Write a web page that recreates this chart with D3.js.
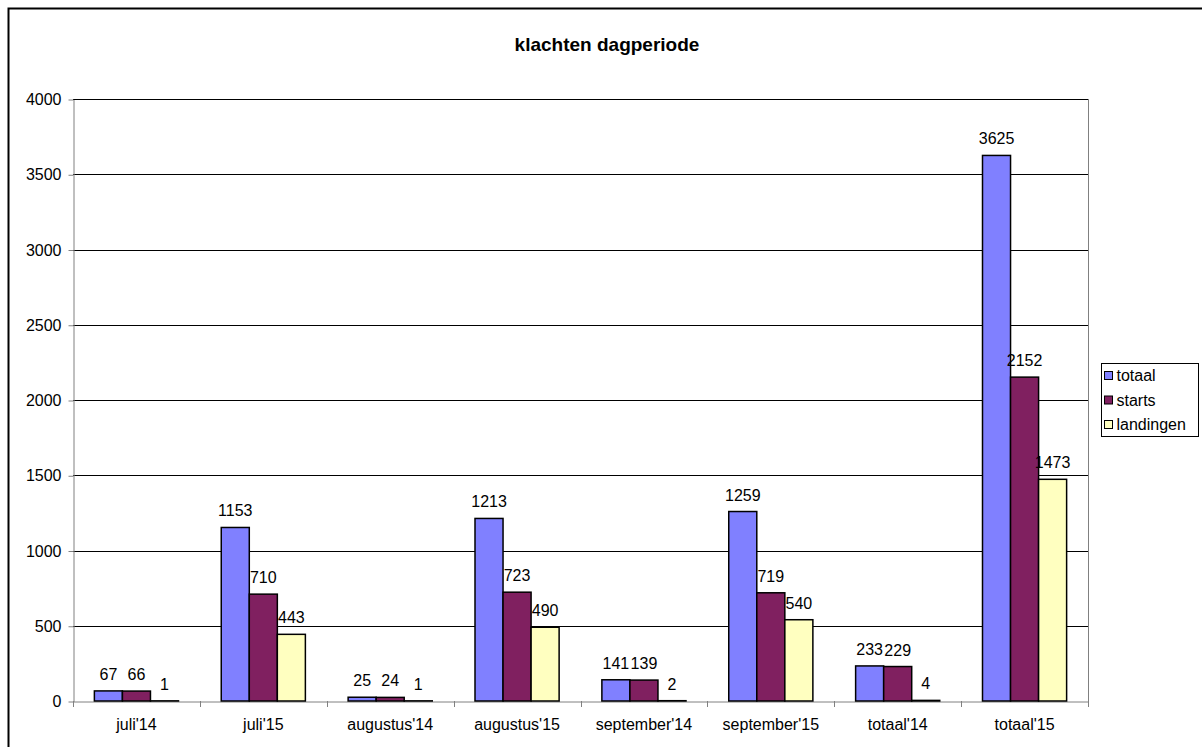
<!DOCTYPE html>
<html>
<head>
<meta charset="utf-8">
<script src="https://cdn.jsdelivr.net/npm/d3@7"></script>
<style>
  body { margin: 0; background: #fff; }
  svg text { font-family: "Liberation Sans", Arial, sans-serif; }
</style>
</head>
<body>
<div id="chart"></div>
<script>
// chart values
var categories = ["juli'14", "juli'15", "augustus'14", "augustus'15", "september'14", "september'15", "totaal'14", "totaal'15"];
var seriesNames = ["totaal", "starts", "landingen"];
var totaal = [67, 1153, 25, 1213, 141, 1259, 233, 3625];
var starts = [66, 710, 24, 723, 139, 719, 229, 2152];
var landingen = [1, 443, 1, 490, 2, 540, 4, 1473];
var yTicks = [0, 500, 1000, 1500, 2000, 2500, 3000, 3500, 4000];
var colors = ["#8080FF", "#802060", "#FFFFC0"];

var width = 1202, height = 747;
var plot = {left: 73, top: 99, right: 1088, bottom: 701};
var fontSize = "16px";

var svg = d3.select("#chart").append("svg")
    .attr("width", width)
    .attr("height", height);

// outer frame (cropped on right and bottom)
svg.append("rect")
    .attr("x", 8.5).attr("y", 8.5)
    .attr("width", 1200).attr("height", 800)
    .attr("fill", "#fff")
    .attr("stroke", "#000")
    .attr("stroke-width", 2);

svg.append("text")
    .attr("x", 607).attr("y", 51)
    .attr("text-anchor", "middle")
    .attr("font-size", "19px")
    .attr("font-weight", "bold")
    .text("klachten dagperiode");

var x0 = d3.scaleBand()
    .domain(categories)
    .range([plot.left, plot.right])
    .paddingInner(0.337)
    .paddingOuter(0.337 / 2);

var x1 = d3.scaleBand()
    .domain(seriesNames)
    .range([0, x0.bandwidth()]);

var y = d3.scaleLinear()
    .domain([0, 4000])
    .range([plot.bottom, plot.top]);

// gridlines
svg.append("g")
    .selectAll("line")
    .data(yTicks.slice(1))
    .join("line")
    .attr("x1", plot.left).attr("x2", plot.right)
    .attr("y1", d => Math.round(y(d)) + 0.5)
    .attr("y2", d => Math.round(y(d)) + 0.5)
    .attr("stroke", "#000")
    .attr("stroke-width", 1);

// plot border right
svg.append("line")
    .attr("x1", plot.right + 0.5).attr("x2", plot.right + 0.5)
    .attr("y1", plot.top).attr("y2", plot.bottom)
    .attr("stroke", "#808080");

// y axis
var yAxis = svg.append("g")
    .attr("transform", "translate(" + (plot.left + 0.5) + ",0.5)")
    .call(d3.axisLeft(y).tickValues(yTicks).tickFormat(d3.format("d"))
        .tickSize(5).tickPadding(7).tickSizeOuter(0));
yAxis.select(".domain").attr("stroke", "#808080");
yAxis.selectAll(".tick line").attr("stroke", "#808080");
yAxis.selectAll("text").attr("font-size", fontSize).attr("fill", "#000")
    .attr("font-family", "Liberation Sans, Arial, sans-serif");

// x axis
var xAxis = svg.append("g")
    .attr("transform", "translate(0," + (plot.bottom + 0.5) + ")")
    .call(d3.axisBottom(x0).tickSize(0).tickPadding(17));
xAxis.select(".domain").attr("stroke", "#808080");
xAxis.selectAll("text").attr("font-size", fontSize).attr("fill", "#000")
    .attr("font-family", "Liberation Sans, Arial, sans-serif");

// category separator ticks
var sepPos = categories.map((c, i) => plot.left + i * (plot.right - plot.left) / categories.length);
sepPos.push(plot.right);
svg.append("g")
    .selectAll("line")
    .data(sepPos)
    .join("line")
    .attr("x1", d => Math.round(d) + 0.5).attr("x2", d => Math.round(d) + 0.5)
    .attr("y1", plot.bottom).attr("y2", plot.bottom + 6)
    .attr("stroke", "#808080");

// bars
var rows = categories.map((c, i) => ({
    cat: c,
    values: [totaal[i], starts[i], landingen[i]].map((v, j) => ({series: seriesNames[j], value: v, color: colors[j]}))
}));

var groups = svg.append("g")
    .selectAll("g")
    .data(rows)
    .join("g")
    .attr("transform", d => "translate(" + x0(d.cat) + ",0)");

groups.selectAll("rect")
    .data(d => d.values)
    .join("rect")
    .attr("x", d => x1(d.series))
    .attr("y", d => y(d.value))
    .attr("width", x1.bandwidth())
    .attr("height", d => Math.max(0, y(0) - y(d.value)))
    .attr("fill", d => d.color)
    .attr("stroke", "#000")
    .attr("stroke-width", 1.5);

groups.selectAll("text")
    .data(d => d.values)
    .join("text")
    .attr("x", d => x1(d.series) + x1.bandwidth() / 2)
    .attr("y", d => y(d.value) - 11)
    .attr("text-anchor", "middle")
    .attr("font-size", fontSize)
    .text(d => d.value);

// legend
var legend = svg.append("g").attr("transform", "translate(1101,363)");
legend.append("rect")
    .attr("x", 0.5).attr("y", 0.5)
    .attr("width", 97).attr("height", 73)
    .attr("fill", "#fff")
    .attr("stroke", "#000");

var items = legend.selectAll("g.item")
    .data(seriesNames)
    .join("g")
    .attr("class", "item")
    .attr("transform", (d, i) => "translate(3.5," + (8.5 + i * 24.5) + ")");

items.append("rect")
    .attr("width", 8).attr("height", 8)
    .attr("fill", (d, i) => colors[i])
    .attr("stroke", "#000");

items.append("text")
    .attr("x", 12).attr("y", 9.5)
    .attr("font-size", fontSize)
    .text(d => d);
</script>
</body>
</html>
